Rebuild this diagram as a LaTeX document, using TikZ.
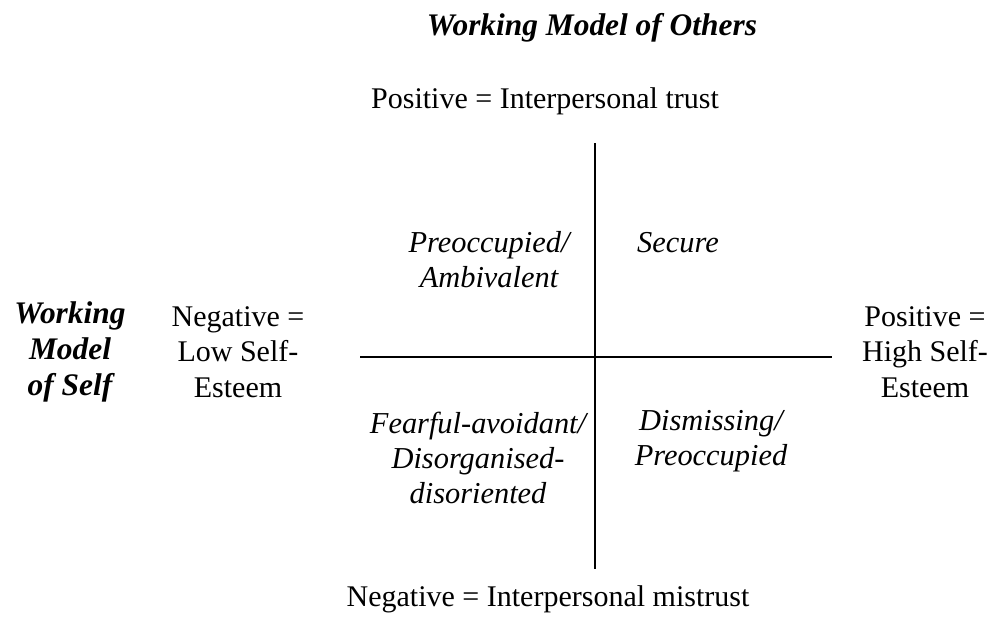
\documentclass[tikz,border=0pt]{standalone}
\usepackage{fontspec}
\setmainfont{Liberation Serif}

\begin{document}
\begin{tikzpicture}[x=0.5pt,y=-0.5pt,
    every node/.style={font=\fontsize{15}{17.8}\selectfont,align=center,inner sep=0pt},
    heading/.style={font=\fontsize{15.7}{17.8}\selectfont\bfseries\itshape},
    quadrant/.style={font=\fontsize{15.2}{17.5}\selectfont\itshape},
    axis/.style={line width=1pt}]
  \useasboundingbox (0,0) rectangle (997,618);
  % axes
  \coordinate (top) at (595,143);
  \coordinate (bottom) at (595,569);
  \coordinate (left) at (360,357);
  \coordinate (right) at (832,357);
  \draw[axis] (top) -- (bottom);
  \draw[axis] (left) -- (right);
  % others
  \node[heading,anchor=base] (others) at (592,35) {Working Model of Others};
  \node[anchor=base] (trust) at (545,108) {Positive = Interpersonal trust};
  \node[anchor=base] (mistrust) at (548,606) {Negative = Interpersonal mistrust};
  % self
  \node[heading] (self) at (70,352) {Working\\Model\\of Self};
  \node (low) at (238,352) {Negative =\\Low Self-\\Esteem};
  \node (high) at (925,352) {Positive =\\High Self-\\Esteem};
  % quadrants
  \node[quadrant] (preocc) at (489,260) {Preoccupied/\\Ambivalent};
  \node[quadrant,anchor=base] (secure) at (678,252) {Secure};
  \node[quadrant] (fearful) at (478,458) {Fearful-avoidant/\\Disorganised-\\disoriented};
  \node[quadrant] (dismiss) at (711,441) {Dismissing/\\Preoccupied};
\end{tikzpicture}
\end{document}
